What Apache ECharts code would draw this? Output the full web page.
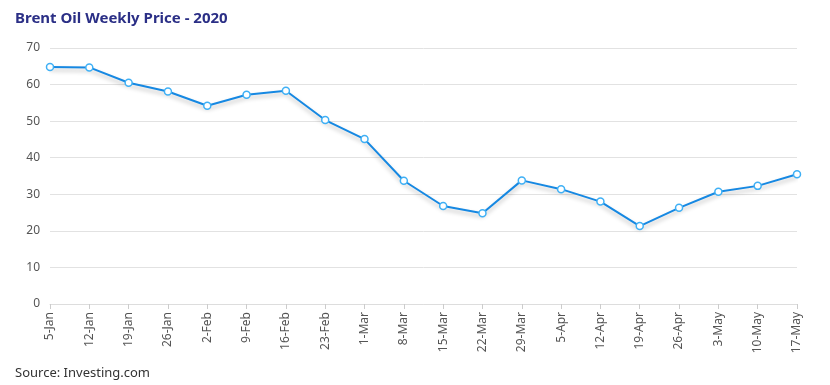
<!DOCTYPE html>
<html><head><meta charset="utf-8">
<script src="https://cdn.jsdelivr.net/npm/echarts@6/dist/echarts.min.js"></script>
<style>html,body{margin:0;padding:0;background:#fff}#c{width:830px;height:385px}</style>
</head><body><div id="c"></div>
<script>
var categories = ['5-Jan','12-Jan','19-Jan','26-Jan','2-Feb','9-Feb','16-Feb','23-Feb','1-Mar','8-Mar','15-Mar','22-Mar','29-Mar','5-Apr','12-Apr','19-Apr','26-Apr','3-May','10-May','17-May'];
var prices = [64.8, 64.7, 60.5, 58.1, 54.2, 57.2, 58.3, 50.3, 45.1, 33.7, 26.8, 24.8, 33.8, 31.4, 28.0, 21.3, 26.3, 30.7, 32.3, 35.5];
var yTicks = [0, 10, 20, 30, 40, 50, 60, 70];

var chart = echarts.init(document.getElementById('c'));
chart.setOption({
  animation: false,
  title: [{
    text: 'Brent Oil Weekly Price - 2020', left: 10, top: 6,
    textStyle: {color: '#2b2f86', fontSize: 15, fontWeight: 'bold', fontFamily: 'Noto Sans'}
  }, {
    text: 'Source: Investing.com', left: 10, top: 362,
    textStyle: {color: '#333', fontSize: 13, fontWeight: 'normal', fontFamily: 'Noto Sans'}
  }],
  grid: {left: 50, right: 33, top: 48, bottom: 81},
  xAxis: {
    type: 'category', data: categories, boundaryGap: false,
    axisLine: {lineStyle: {color: '#ddd'}},
    axisTick: {alignWithLabel: true, lineStyle: {color: '#ccc'}},
    axisLabel: {rotate: 90, color: '#555', fontSize: 12, fontFamily: 'Noto Sans', interval: 0, margin: 8}
  },
  yAxis: {
    type: 'value', min: yTicks[0], max: yTicks[yTicks.length-1], interval: 10,
    axisLine: {show: false}, axisTick: {show: false},
    splitLine: {lineStyle: {color: '#e2e2e2'}},
    axisLabel: {color: '#555', fontSize: 12, fontFamily: 'Noto Sans', margin: 10}
  },
  series: [{
    type: 'line', data: prices,
    symbol: 'circle', symbolSize: 7,
    lineStyle: {color: '#1688e2', width: 2, shadowColor: 'rgba(0,0,0,0.25)', shadowBlur: 4, shadowOffsetY: 3},
    itemStyle: {color: '#fff', borderColor: '#3fb0f5', borderWidth: 1.5}
  }]
});
</script></body></html>
